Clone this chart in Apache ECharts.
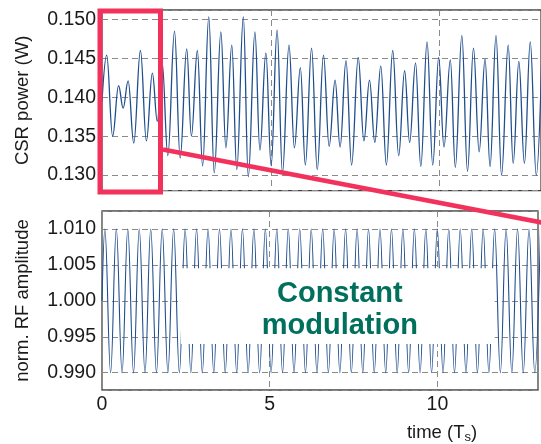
<!DOCTYPE html>
<html><head><meta charset="utf-8">
<script src="https://cdn.jsdelivr.net/npm/echarts@6/dist/echarts.min.js"></script>
<style>html,body{margin:0;padding:0;background:#fff}#c{width:541px;height:444px}</style>
</head><body><div id="c"></div>
<script>
// ---- data ----
const csrTime = [0, 0.138, 0.315, 0.491, 0.626, 0.774, 0.941, 1.138, 1.315, 1.491, 1.638, 1.779, 1.950, 2.147, 2.315, 2.509, 2.647, 2.824, 2.979, 3.162, 3.324, 3.521, 3.668, 3.844, 3.991, 4.185, 4.332, 4.529, 4.676, 4.853, 5.009, 5.185, 5.344, 5.538, 5.697, 5.874, 6.021, 6.206, 6.374, 6.559, 6.726, 6.903, 7.050, 7.226, 7.391, 7.588, 7.756, 7.921, 8.079, 8.256, 8.421, 8.609, 8.785, 8.962, 9.109, 9.285, 9.441, 9.626, 9.794, 9.971, 10.126, 10.315, 10.462, 10.656, 10.824, 11.000, 11.168, 11.344, 11.491, 11.668, 11.832, 12.029, 12.176, 12.344, 12.509, 12.682, 12.859, 13.03];
const csrPower = [0.1395, 0.1454, 0.1350, 0.1415, 0.1386, 0.1421, 0.1341, 0.1460, 0.1344, 0.1431, 0.1369, 0.1445, 0.1325, 0.1485, 0.1322, 0.1462, 0.1350, 0.1460, 0.1312, 0.1503, 0.1303, 0.1484, 0.1335, 0.1467, 0.1307, 0.1503, 0.1298, 0.1484, 0.1332, 0.1457, 0.1312, 0.1486, 0.1303, 0.1467, 0.1335, 0.1438, 0.1313, 0.1463, 0.1307, 0.1454, 0.1337, 0.1422, 0.1336, 0.1447, 0.1313, 0.1451, 0.1344, 0.1422, 0.1342, 0.1440, 0.1313, 0.1460, 0.1325, 0.1434, 0.1342, 0.1444, 0.1311, 0.1471, 0.1313, 0.1451, 0.1336, 0.1448, 0.1310, 0.1479, 0.1305, 0.1463, 0.1330, 0.1449, 0.1311, 0.1479, 0.1300, 0.1467, 0.1315, 0.1446, 0.1315, 0.1471, 0.1300, 0.1460];

const rfStartValue = 1.000;        // value at t = 0
const rfFirstPeak = 0.0855;        // time of first extreme
const rfHalfPeriod = 0.1709;       // spacing of successive extremes (sampling grid)
const rfExtremes = [
  1.010,0.990,1.010,0.990,1.010,0.990,1.010,0.990,1.010,0.990,
  1.010,0.990,1.010,0.990,1.010,0.990,1.010,0.990,1.010,0.990,
  1.010,0.990,1.010,0.990,1.010,0.990,1.010,0.990,1.010,0.990,
  1.010,0.990,1.010,0.990,1.010,0.990,1.010,0.990,1.010,0.990,
  1.010,0.990,1.010,0.990,1.010,0.990,1.010,0.990,1.010,0.990,
  1.010,0.990,1.010,0.990,1.010,0.990,1.010,0.990,1.010,0.990,
  1.010,0.990,1.010,0.990,1.010,0.990,1.010,0.990,1.010,0.990,
  1.010,0.990,1.010,0.990,1.010,0.990,1.010
];

const xTicks = [0, 5, 10];
const csrTicks = [0.130, 0.135, 0.140, 0.145, 0.150];
const rfTicks = [0.990, 0.995, 1.000, 1.005, 1.010];

const boxX = [2.353, 11.71];
const boxY = [0.9940, 1.00455];
const annotation = ['Constant', 'modulation'];

// ---- build ----
const csrData = csrTime.map((t, i) => [t, csrPower[i]]);
const rfData = [[0, rfStartValue]].concat(rfExtremes.map((v, i) => [rfFirstPeak + i * rfHalfPeriod, v]));

const FONT = "'Liberation Sans', Arial, Helvetica, sans-serif";
const labelCol = '#1a1a1a';
const TICK_FS = 19.5;
const near = (arr, v, eps) => arr.some(a => Math.abs(a - v) < eps);

const splitStyle = { show: true, lineStyle: { color: '#8a8a8a', type: [6, 4], width: 1 } };

const chart = echarts.init(document.getElementById('c'), null, { renderer: 'canvas' });
chart.setOption({
  animation: false,
  backgroundColor: '#fff',
  grid: [
    { left: 102, top: 10, width: 442, height: 180.7, show: true, borderColor: '#444', borderWidth: 1.3, backgroundColor: 'transparent' },
    { left: 102, top: 211, width: 442, height: 179, show: true, borderColor: '#444', borderWidth: 1.3, backgroundColor: 'transparent' }
  ],
  xAxis: [
    { type: 'value', gridIndex: 0, min: 0, max: 13, interval: 5,
      axisLine: { show: false }, axisTick: { show: false }, axisLabel: { show: false },
      splitLine: splitStyle },
    { type: 'value', gridIndex: 1, min: 0, max: 13, interval: 5,
      axisLine: { show: false }, axisTick: { show: false },
      axisLabel: { show: true, margin: 5, fontSize: TICK_FS, fontFamily: FONT, color: labelCol,
        formatter: v => near(xTicks, v, 1e-6) ? String(v) : '' },
      splitLine: splitStyle }
  ],
  yAxis: [
    { type: 'value', gridIndex: 0, min: 0.128, max: 0.1512, splitNumber: 5,
      name: 'CSR power (W)', nameLocation: 'middle', nameGap: 70,
      nameTextStyle: { fontSize: 18.5, fontFamily: FONT, color: labelCol },
      axisLine: { show: false }, axisTick: { show: false },
      axisLabel: { margin: 6, fontSize: TICK_FS, fontFamily: FONT, color: labelCol,
        formatter: v => near(csrTicks, v, 1e-7) ? v.toFixed(3) : '' },
      splitLine: splitStyle },
    { type: 'value', gridIndex: 1, min: 0.9876, max: 1.0125, splitNumber: 5,
      name: 'norm. RF amplitude', nameLocation: 'middle', nameGap: 70,
      nameTextStyle: { fontSize: 18.5, fontFamily: FONT, color: labelCol },
      axisLine: { show: false }, axisTick: { show: false },
      axisLabel: { margin: 6, fontSize: TICK_FS, fontFamily: FONT, color: labelCol,
        formatter: v => near(rfTicks, v, 1e-7) ? v.toFixed(3) : '' },
      splitLine: splitStyle }
  ],
  series: [
    { type: 'line', xAxisIndex: 0, yAxisIndex: 0, data: csrData, showSymbol: false,
      smooth: 0.4, smoothMonotone: 'x', lineStyle: { color: '#1f4e8d', width: 1.3 } },
    { type: 'line', xAxisIndex: 1, yAxisIndex: 1, data: rfData, showSymbol: false,
      smooth: 0.4, smoothMonotone: 'x', lineStyle: { color: '#1f4e8d', width: 1.1 } }
  ]
});

// annotations placed via the axes' own scales
const p0 = chart.convertToPixel({ gridIndex: 1 }, [boxX[0], boxY[1]]);
const p1 = chart.convertToPixel({ gridIndex: 1 }, [boxX[1], boxY[0]]);
chart.setOption({
  graphic: [
    { type: 'rect', z: 50, shape: { x: p0[0], y: p0[1], width: p1[0] - p0[0], height: p1[1] - p0[1] },
      style: { fill: '#fff' } },
    { type: 'text', z: 51, x: (p0[0] + p1[0]) / 2 + 2, y: 310,
      style: { text: annotation.join('\n'), fill: '#00705c', font: "bold 29px " + FONT,
        align: 'center', verticalAlign: 'middle', lineHeight: 32 } },
    { type: 'rect', z: 60, shape: { x: 100, y: 11, width: 60.5, height: 181 },
      style: { fill: 'none', stroke: '#f2325c', lineWidth: 5 } },
    { type: 'line', z: 60, shape: { x1: 163, y1: 149.5, x2: 560, y2: 226 },
      style: { stroke: '#f2325c', lineWidth: 4.5 } },
    { type: 'text', z: 51, x: 442, y: 433,
      style: { text: '{a|time (T}{s|s}{a|)}', align: 'center', verticalAlign: 'middle',
        rich: { a: { fontSize: 18.5, fontFamily: FONT, fill: labelCol, color: labelCol },
                s: { fontSize: 13, fontFamily: FONT, fill: labelCol, color: labelCol, padding: [8, 0, 0, 0] } } } }
  ]
});
</script></body></html>
